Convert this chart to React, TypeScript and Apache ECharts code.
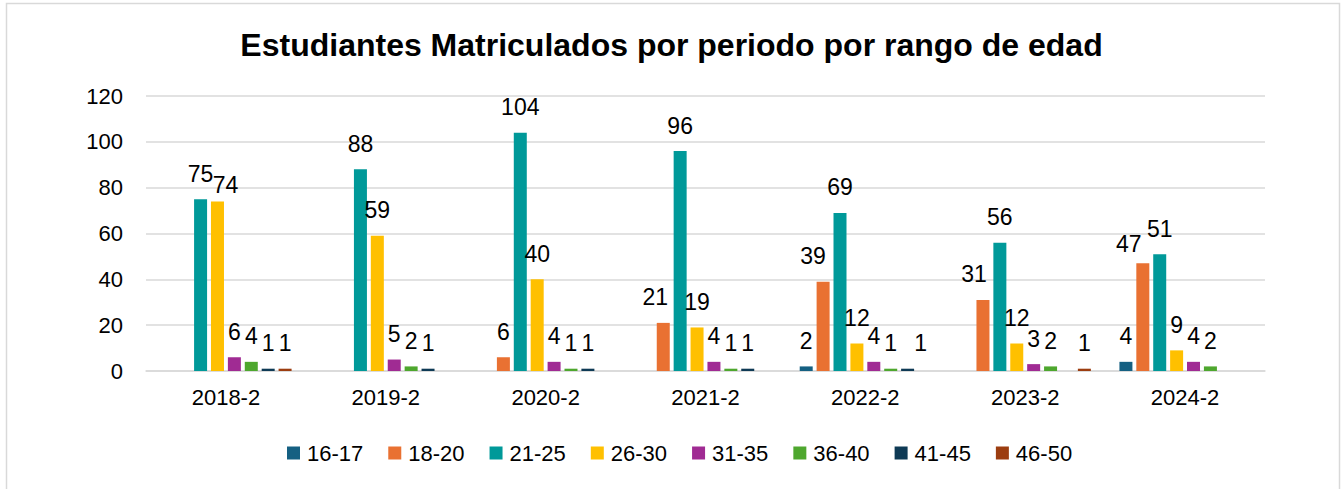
import React, { useEffect, useRef } from "react";
import * as echarts from "echarts";

const categories = ["2018-2", "2019-2", "2020-2", "2021-2", "2022-2", "2023-2", "2024-2"];
const seriesNames = ["16-17", "18-20", "21-25", "26-30", "31-35", "36-40", "41-45", "46-50"];
const colors = ["#156082", "#E97132", "#009999", "#FFC000", "#A02B93", "#4EA72E", "#0E3A55", "#9C3D10"];

const s1617 = [null, null, null, null, 2, null, 4];
const s1820 = [null, null, 6, 21, 39, 31, 47];
const s2125 = [75, 88, 104, 96, 69, 56, 51];
const s2630 = [74, 59, 40, 19, 12, 12, 9];
const s3135 = [6, 5, 4, 4, 4, 3, 4];
const s3640 = [4, 2, 1, 1, 1, 2, 2];
const s4145 = [1, 1, 1, 1, 1, null, null];
const s4650 = [1, null, null, null, null, 1, null];

const seriesData = [s1617, s1820, s2125, s2630, s3135, s3640, s4145, s4650];

const yTicks = { min: 0, max: 120, interval: 20 };

// label nudges (Excel-style overlap avoidance), keyed "series|category"
const labelNudges: Record<string, [number, number]> = {
  "26-30|2018-2": [8, 9],
  "18-20|2021-2": [-8, 0],
  "18-20|2022-2": [-10, 0],
  "41-45|2022-2": [13, 0],
  "18-20|2023-2": [-9, 0],
  "18-20|2024-2": [-14, 6],
};

export default function App() {
  const ref = useRef<HTMLDivElement>(null);
  useEffect(() => {
    if (!ref.current) return;
    const chart = echarts.init(ref.current, null, { renderer: "svg" });
    const font = "Liberation Sans, Arial, sans-serif";
    chart.setOption({
      animation: false,
      backgroundColor: "#ffffff",
      title: {
        text: "Estudiantes Matriculados por periodo por rango de edad",
        left: "center",
        top: 24,
        textStyle: { fontFamily: font, fontSize: 32, fontWeight: "bold", color: "#000000" },
      },
      graphic: [
        {
          type: "rect",
          shape: { x: 6.5, y: 3.5, width: 1333, height: 490 },
          style: { fill: "none", stroke: "#d9d9d9", lineWidth: 1.5 },
          silent: true,
        },
      ],
      legend: {
        bottom: 20,
        left: 282,
        itemWidth: 13,
        itemHeight: 13,
        itemGap: 25,
        icon: "rect",
        textStyle: { fontFamily: font, fontSize: 22, color: "#000000", padding: [0, 0, 0, 2] },
        data: seriesNames,
      },
      grid: { left: 146, right: 78, top: 96, bottom: 118, containLabel: false },
      xAxis: {
        type: "category",
        data: categories,
        axisLine: { lineStyle: { color: "#d9d9d9", width: 1.5 } },
        axisTick: { show: false },
        axisLabel: { fontFamily: font, fontSize: 22, color: "#000000", margin: 15 },
      },
      yAxis: {
        type: "value",
        min: yTicks.min,
        max: yTicks.max,
        interval: yTicks.interval,
        axisLine: { show: false },
        axisTick: { show: false },
        axisLabel: { fontFamily: font, fontSize: 22, color: "#000000", margin: 23 },
        splitLine: { lineStyle: { color: "#d9d9d9", width: 1.5 } },
      },
      series: seriesNames.map((name, i) => ({
        name,
        type: "bar",
        data: seriesData[i].map((v, j) => {
          const nudge = labelNudges[name + "|" + categories[j]];
          return nudge ? { value: v, label: { offset: nudge } } : v;
        }),
        barWidth: 13,
        barGap: "30%",
        itemStyle: { color: colors[i] },
        label: {
          show: true,
          position: "top",
          distance: 14,
          fontFamily: font,
          fontSize: 23,
          color: "#000000",
        },
      })),
    });
    return () => chart.dispose();
  }, []);
  return (
    <div
      ref={ref}
      style={{ position: "fixed", left: 0, top: 0, width: 1343, height: 489 }}
    />
  );
}
